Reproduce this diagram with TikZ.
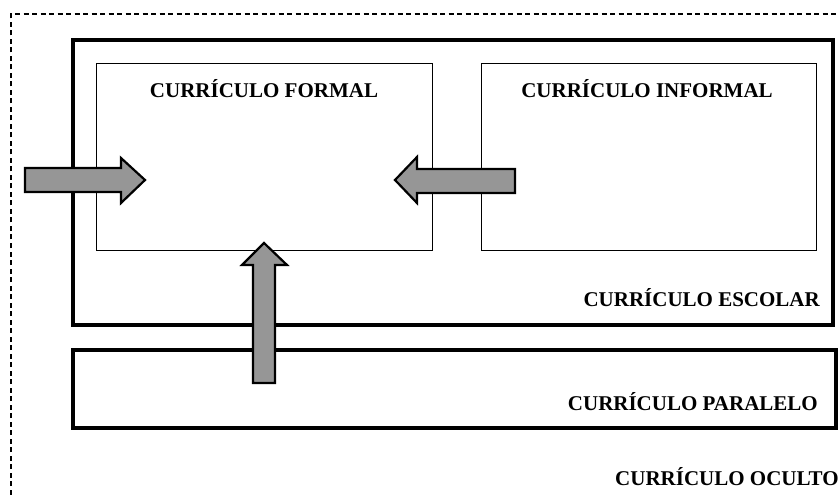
\documentclass[tikz,border=0pt]{standalone}
\usepackage{fontspec}
\setmainfont{Liberation Serif}
\definecolor{arrowgray}{RGB}{150,150,150}
\begin{document}
\begin{tikzpicture}[x=1pt,y=-1pt,
  lbl/.style={font=\bfseries\fontsize{21}{24}\selectfont, inner sep=0pt},
  thickbox/.style={draw, line width=4pt, inner sep=0pt},
  thinbox/.style={draw, line width=0.9pt, inner sep=0pt},
  blockarrow/.style={draw, line width=2.2pt, fill=arrowgray, line join=miter}]
\useasboundingbox (0,0) rectangle (838,497);
\clip (0,0) rectangle (838,497);
\fill[white] (0,0) rectangle (838,497);
% outer dashed (oculto)
\draw[line width=1.2pt, dash pattern=on 5pt off 3.5pt] (11,520) -- (11,14) -- (860,14);
% boxes
\node[thickbox, minimum width=760pt, minimum height=285pt] (escolar) at (453,182.5) {};
\node[thinbox, minimum width=336pt, minimum height=187pt] (formal) at (264,156.5) {};
\node[thinbox, minimum width=335pt, minimum height=187pt] (informal) at (648.5,156.5) {};
\node[thickbox, line width=3.5pt, minimum width=763pt, minimum height=78pt] (paralelo) at (454.5,389) {};
% labels
\node[lbl, anchor=base] (tformal) at (264,98) {CURRÍCULO FORMAL};
\node[lbl, anchor=base] (tinformal) at (647,98) {CURRÍCULO INFORMAL};
\node[lbl, anchor=base east] (tescolar) at (820,306) {CURRÍCULO ESCOLAR};
\node[lbl, anchor=base east] (tparalelo) at (818,410) {CURRÍCULO PARALELO};
\node[lbl, anchor=base west] (toculto) at (615,485) {CURRÍCULO OCULTO};
% block arrows
\draw[blockarrow] (25,168) -- (121,168) -- (121,158) -- (145,180) -- (121,203) -- (121,192) -- (25,192) -- cycle;
\draw[blockarrow] (515,169) -- (417,169) -- (417,157) -- (395,180) -- (417,203) -- (417,193) -- (515,193) -- cycle;
\draw[blockarrow] (253,383) -- (253,265) -- (242,265) -- (264,243) -- (287,265) -- (275,265) -- (275,383) -- cycle;
\end{tikzpicture}
\end{document}
